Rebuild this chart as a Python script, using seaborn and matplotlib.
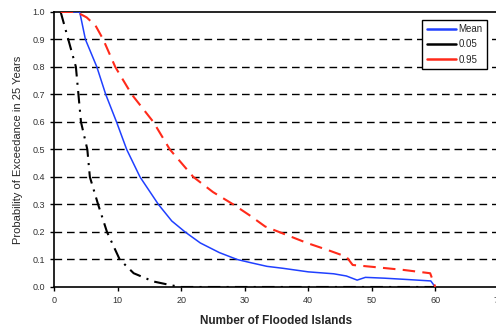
import pandas as pd
import matplotlib
matplotlib.use("Agg")
import matplotlib.pyplot as plt
import seaborn as sns

# values
mean_x = [1, 4, 4.9, 6.7, 8.1, 9.8, 11.4, 13.5, 16.4, 18.5, 20.6, 23, 26, 28.8,
          31, 33.5, 36, 40, 44, 46, 47.7, 49, 52, 55, 59.3, 60]
mean_y = [1.0, 1.0, 0.9, 0.8, 0.7, 0.6, 0.5, 0.4, 0.3, 0.24, 0.2, 0.16, 0.125, 0.1,
          0.088, 0.075, 0.068, 0.055, 0.048, 0.04, 0.025, 0.035, 0.032, 0.028, 0.022, 0.0]

p05_x = [1, 2.2, 3.4, 3.8, 4.2, 5.2, 5.6, 6.9, 8.3, 10.3, 12.5, 15.6, 18.7, 20, 30, 40, 50, 60]
p05_y = [1.0, 0.9, 0.8, 0.7, 0.6, 0.5, 0.4, 0.3, 0.2, 0.1, 0.05, 0.02, 0.005, 0.0,
         0.0, 0.0, 0.0, 0.0]

p95_x = [1, 3.5, 5.1, 6.5, 7.7, 9.6, 12.2, 15.6, 18.2, 21.9, 25, 28.2, 30.8, 33.2,
         36.5, 39.8, 43, 46, 47, 50.2, 55, 59.2, 60]
p95_y = [1.0, 1.0, 0.98, 0.95, 0.9, 0.8, 0.7, 0.6, 0.5, 0.4, 0.345, 0.3, 0.26, 0.22,
         0.19, 0.16, 0.135, 0.11, 0.08, 0.073, 0.062, 0.05, 0.0]

y_ticks = [0.0, 0.1, 0.2, 0.3, 0.4, 0.5, 0.6, 0.7, 0.8, 0.9, 1.0]
x_ticks = [0, 10, 20, 30, 40, 50, 60, 70]

sns.set_theme(style="white")
plt.rcParams['font.family'] = ['Liberation Sans', 'DejaVu Sans']

fig = plt.figure(figsize=(4.96, 3.29), dpi=100)
ax = fig.add_axes([0.1095, 0.1277, 0.896, 0.836])

# dashed horizontal grid
for yv in y_ticks[1:-1]:
    ax.axhline(yv, color='black', lw=1.0, ls=(0, (5.5, 3.5)), zorder=1)

sns.lineplot(x=mean_x, y=mean_y, ax=ax, color='#2040ff', lw=1.1,
             sort=False, estimator=None, label='Mean', zorder=3)
sns.lineplot(x=p05_x, y=p05_y, ax=ax, color='black', lw=1.5,
             sort=False, estimator=None, label='0.05', zorder=3)
sns.lineplot(x=p95_x, y=p95_y, ax=ax, color='#ff2a1a', lw=1.5,
             sort=False, estimator=None, label='0.95', zorder=3)
ax.lines[-2].set_linestyle((0, (6, 3, 1, 3)))
ax.lines[-1].set_linestyle((0, (6, 3.5)))

ax.set_xlim(0, 70)
ax.set_ylim(0, 1.0)
ax.set_xticks(x_ticks)
ax.set_yticks(y_ticks)
ax.set_yticklabels([f'{v:.1f}' for v in y_ticks])
ax.tick_params(axis='both', labelsize=6.5, labelcolor='#333333', direction='out',
               length=3, width=1, color='black', left=True, bottom=True)

for side in ['left', 'bottom', 'top']:
    ax.spines[side].set_color('black')
    ax.spines[side].set_linewidth(1.2)
ax.spines['right'].set_visible(False)

ax.set_xlabel('Number of Flooded Islands', fontsize=8.5, fontweight='bold', labelpad=7)
ax.set_ylabel('Probability of Exceedance in 25 Years', fontsize=8, labelpad=7)

leg = ax.legend(loc='upper right', bbox_to_anchor=(0.985, 0.99), fontsize=7,
                frameon=True, fancybox=False, handlelength=3.0, borderpad=0.45,
                labelspacing=0.55, handletextpad=0.3)
leg.get_frame().set_edgecolor('black')
leg.get_frame().set_linewidth(1.0)
leg.get_frame().set_alpha(1)
for line in leg.get_lines():
    line.set_linestyle('-')
    line.set_linewidth(1.8)

fig.savefig('out.png', dpi=100)
